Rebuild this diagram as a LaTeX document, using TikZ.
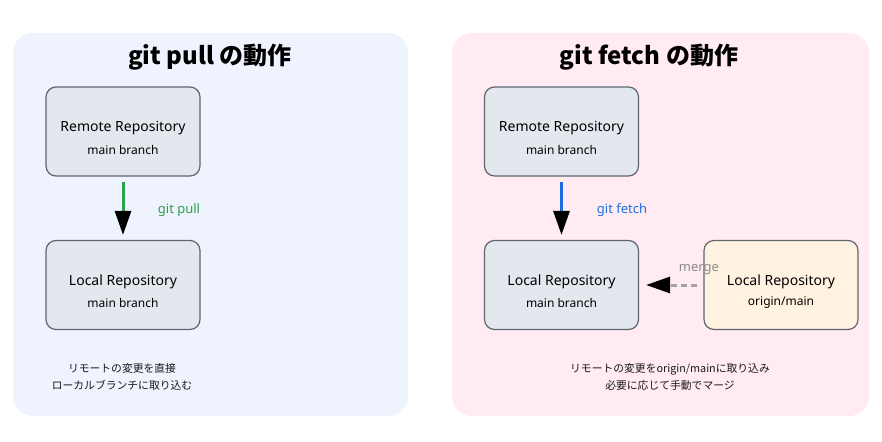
\documentclass[tikz,border=0pt]{standalone}
\usepackage{fontspec}
\setmainfont{Noto Sans}
\newfontfamily\jp{Noto Sans CJK JP}
\usetikzlibrary{arrows.meta}
\definecolor{pullbg}{HTML}{EEF3FE}
\definecolor{fetchbg}{HTML}{FFEBF1}
\definecolor{boxfill}{HTML}{E2E8EE}
\definecolor{boxline}{HTML}{5F6670}
\definecolor{origfill}{HTML}{FFF2E1}
\definecolor{pullgreen}{HTML}{2E9E4F}
\definecolor{fetchblue}{HTML}{1A6FE0}
\definecolor{mergegray}{HTML}{8C8C8C}
\tikzset{
  panel/.style={rounded corners=20pt, draw=none},
  repo/.style={draw=boxline, line width=1.2pt, fill=boxfill, rounded corners=10pt,
    minimum width=154pt, minimum height=89pt, inner sep=0pt},
  maintext/.style={font=\fontsize{14}{16}\selectfont, text=black},
  subtext/.style={font=\fontsize{12}{14}\selectfont, text=black},
  titletext/.style={font=\jp\fontsize{24}{28}\selectfont\bfseries},
  notetext/.style={font=\jp\fontsize{10.8}{17}\selectfont, align=center, text=black!90},
  flow/.style={line width=3pt, shorten <=5pt, shorten >=5pt,
    -{Triangle[length=24pt,width=16pt,color=black]}},
  arrowlabel/.style={font=\fontsize{13}{15}\selectfont},
}
\begin{document}
\begin{tikzpicture}[x=1pt,y=-1pt]
\useasboundingbox (0,0) rectangle (882,441);
\fill[white] (0,0) rectangle (882,441);
% panels
\fill[panel, pullbg] (13,33) rectangle (408,416);
\fill[panel, fetchbg] (452,33) rectangle (869,416);
% titles
\node[titletext] (t1) at (210,57) {git pull の動作};
\node[titletext] (t2) at (649,57) {git fetch の動作};
% left panel boxes
\node[repo] (r1) at (123,131.5) {};
\node[maintext] (r1a) at ([yshift=3.5pt]r1.center) {Remote Repository};
\node[subtext] (r1b) at ([yshift=-18pt]r1.center) {main branch};
\node[repo] (l1) at (123,285) {};
\node[maintext] (l1a) at ([yshift=3pt]l1.center) {Local Repository};
\node[subtext] (l1b) at ([yshift=-18pt]l1.center) {main branch};
\draw[flow, pullgreen] (r1) -- (l1);
\node[arrowlabel, text=pullgreen] (lp) at (179,210) {git pull};
\node[notetext] (n1) at (122,377) {リモートの変更を直接\\ローカルブランチに取り込む};
% right panel boxes
\node[repo] (r2) at (561.5,131.5) {};
\node[maintext] (r2a) at ([yshift=3.5pt]r2.center) {Remote Repository};
\node[subtext] (r2b) at ([yshift=-18pt]r2.center) {main branch};
\node[repo] (l2) at (561.5,285) {};
\node[maintext] (l2a) at ([yshift=3pt]l2.center) {Local Repository};
\node[subtext] (l2b) at ([yshift=-18pt]l2.center) {main branch};
\node[repo, fill=origfill] (o2) at (781,285) {};
\node[maintext] (o2a) at ([yshift=3pt]o2.center) {Local Repository};
\node[subtext] (o2b) at ([yshift=-18pt]o2.center) {origin/main};
\draw[flow, fetchblue] (r2) -- (l2);
\node[arrowlabel, text=fetchblue] (lf) at (622,210) {git fetch};
\draw[line width=3pt, mergegray!80, dash pattern=on 6pt off 4pt, shorten <=6pt, shorten >=7pt,
  -{Triangle[length=24pt,width=16pt,color=black]}] (o2.west) -- (l2.east);
\node[arrowlabel, text=mergegray] (lm) at (699,270) {merge};
\node[notetext] (n2) at (670,377) {リモートの変更をorigin/mainに取り込み\\必要に応じて手動でマージ};
\end{tikzpicture}
\end{document}
